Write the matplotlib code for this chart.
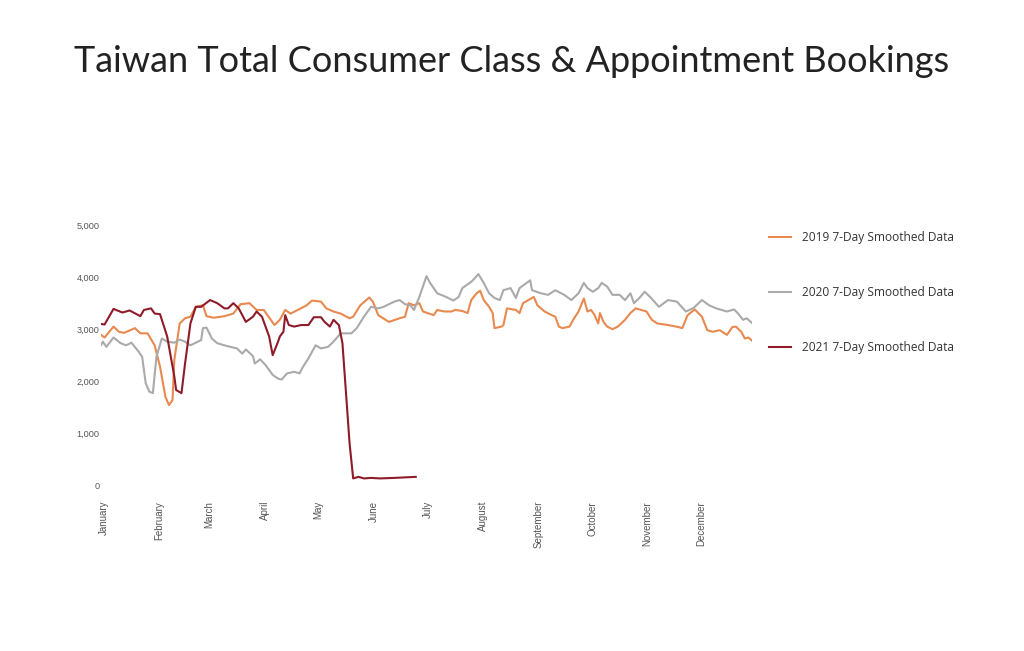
import numpy as np
from matplotlib import pyplot as plt
from matplotlib.transforms import ScaledTranslation

# month start days (day-of-year, 0 = Jan 1)
month_days = [0, 31, 59, 90, 120, 151, 181, 212, 243, 273, 304, 334]
month_names = ['January', 'February', 'March', 'April', 'May', 'June', 'July',
               'August', 'September', 'October', 'November', 'December']

# 2019 7-day smoothed bookings
days_2019 = [0, 2, 7, 10, 13, 19, 22, 26, 30, 33, 36, 38, 40, 41, 44, 47, 50, 53, 57, 59,
             63, 69, 74, 78, 83, 87, 91, 97, 100, 103, 106, 110, 115, 118, 123, 126, 130,
             134, 139, 141, 145, 150, 152, 155, 161, 167, 170, 172, 175, 178, 180, 186,
             188, 192, 196, 198, 202, 205, 207, 210, 212, 214, 217, 219, 220, 224, 225,
             227, 232, 234, 236, 239, 242, 244, 248, 252, 254, 256, 258, 262, 264, 267,
             270, 272, 274, 276, 278, 279, 281, 283, 286, 289, 293, 296, 299, 302, 305,
             308, 311, 317, 323, 325, 328, 332, 336, 339, 342, 346, 350, 353, 355, 358,
             360, 362, 364]
vals_2019 = [2900, 2850, 3060, 2960, 2940, 3030, 2930, 2930, 2700, 2290, 1710, 1550, 1650,
             2420, 3120, 3220, 3250, 3440, 3470, 3260, 3230, 3260, 3310, 3490, 3510, 3380,
             3380, 3090, 3190, 3380, 3310, 3380, 3470, 3560, 3540, 3410, 3350, 3310, 3220,
             3250, 3470, 3620, 3540, 3280, 3150, 3220, 3250, 3510, 3470, 3510, 3350, 3280,
             3380, 3350, 3350, 3380, 3360, 3320, 3570, 3700, 3750, 3570, 3440, 3320, 3030,
             3060, 3090, 3410, 3380, 3320, 3510, 3570, 3630, 3470, 3350, 3280, 3250, 3060,
             3030, 3060, 3190, 3350, 3600, 3350, 3380, 3280, 3120, 3320, 3150, 3060, 3010,
             3060, 3190, 3320, 3410, 3380, 3350, 3190, 3120, 3090, 3050, 3030, 3280, 3390,
             3250, 2990, 2960, 2990, 2900, 3050, 3060, 2960, 2830, 2850, 2790]

# 2020 7-day smoothed bookings
days_2020 = [0, 1, 3, 7, 11, 14, 17, 21, 23, 25, 27, 29, 31, 34, 37, 41, 44, 47, 50, 53,
             56, 57, 59, 62, 65, 70, 76, 79, 81, 85, 86, 89, 92, 96, 99, 101, 104, 108,
             111, 113, 116, 120, 123, 127, 130, 134, 140, 143, 147, 151, 155, 158, 164,
             167, 170, 173, 175, 178, 182, 184, 188, 193, 197, 200, 202, 207, 209, 211,
             214, 217, 220, 223, 225, 229, 232, 234, 238, 240, 241, 246, 250, 254, 259,
             263, 267, 270, 272, 275, 278, 280, 283, 286, 290, 293, 296, 298, 301, 304,
             307, 312, 317, 322, 327, 331, 336, 340, 344, 350, 354, 356, 359, 361, 364]
vals_2020 = [2700, 2770, 2670, 2850, 2740, 2700, 2750, 2580, 2480, 1970, 1810, 1780, 2480,
             2830, 2770, 2750, 2810, 2770, 2700, 2750, 2800, 3030, 3040, 2830, 2740, 2690,
             2640, 2540, 2620, 2490, 2350, 2430, 2320, 2130, 2060, 2040, 2160, 2190, 2160,
             2290, 2450, 2700, 2640, 2670, 2770, 2930, 2930, 3030, 3250, 3440, 3410, 3440,
             3540, 3570, 3490, 3470, 3380, 3630, 4030, 3900, 3700, 3630, 3560, 3630, 3800,
             3920, 3990, 4070, 3900, 3700, 3610, 3570, 3760, 3800, 3610, 3800, 3900, 3950,
             3760, 3700, 3670, 3760, 3670, 3570, 3700, 3900, 3800, 3730, 3800, 3900, 3830,
             3670, 3670, 3570, 3700, 3510, 3610, 3730, 3630, 3440, 3570, 3540, 3350, 3410,
             3570, 3470, 3410, 3350, 3390, 3320, 3190, 3220, 3130]

# 2021 7-day smoothed bookings (ends late June)
days_2021 = [0, 2, 7, 12, 16, 22, 24, 28, 30, 33, 37, 41, 42, 45, 47, 50, 53, 56, 61, 65,
             69, 71, 74, 77, 81, 85, 87, 90, 94, 96, 99, 100, 102, 103, 105, 108, 112, 116,
             119, 123, 125, 128, 130, 133, 135, 137, 139, 141, 144, 147, 151, 156, 164,
             170, 176]
vals_2021 = [3110, 3100, 3400, 3330, 3370, 3260, 3380, 3410, 3310, 3300, 2870, 2100, 1840,
             1780, 2350, 3120, 3440, 3440, 3570, 3510, 3410, 3410, 3510, 3410, 3150, 3250,
             3350, 3250, 2870, 2510, 2770, 2870, 2960, 3280, 3090, 3060, 3090, 3090, 3240,
             3240, 3150, 3060, 3190, 3090, 2740, 1780, 810, 140, 170, 140, 150, 140, 150,
             160, 170]

fig = plt.figure(figsize=(10.24, 6.51), dpi=100)
ax = fig.add_axes([101 / 1024, 1 - 485.7 / 651, 651 / 1024, 260 / 651])

ax.plot(days_2019, vals_2019, color='#E8894F', lw=1.5, label='2019 7-Day Smoothed Data')
ax.plot(days_2020, vals_2020, color='#AAAAAA', lw=1.5, label='2020 7-Day Smoothed Data')
ax.plot(days_2021, vals_2021, color='#8E1B2A', lw=1.5, label='2021 7-Day Smoothed Data')

ax.set_xlim(0, 364)
ax.set_ylim(0, 5000)
ax.set_yticks([0, 1000, 2000, 3000, 4000, 5000])
ax.set_yticklabels(['0', '1,000', '2,000', '3,000', '4,000', '5,000'],
                   fontfamily='Liberation Sans', fontsize=6.6, color='#555555')
ax.set_xticks(month_days)
ax.set_xticklabels(month_names, rotation=90, va='top', ha='center',
                   fontfamily='Liberation Sans', fontsize=7.0, color='#555555')
ax.tick_params(axis='both', length=0)
ax.tick_params(axis='y', pad=1)
ax.tick_params(axis='x', pad=11)
# month labels sit a little right of the month start in the original
shift = ScaledTranslation(3 / 100, 0, fig.dpi_scale_trans)
for lbl in ax.get_xticklabels():
    lbl.set_transform(lbl.get_transform() + shift)
for s in ax.spines.values():
    s.set_visible(False)

leg = ax.legend(loc='upper left', bbox_to_anchor=(1.01, 1.02), frameon=False,
                prop={'family': 'Open Sans', 'size': 8.6}, labelcolor='#333333',
                handlelength=1.85, handletextpad=0.9, labelspacing=3.5)

fig.text(0.5, 1 - 62 / 651, 'Taiwan Total Consumer Class & Appointment Bookings',
         ha='center', va='center', fontsize=26, fontfamily='Lato', color='#222222')

plt.savefig('out.png', dpi=100)
